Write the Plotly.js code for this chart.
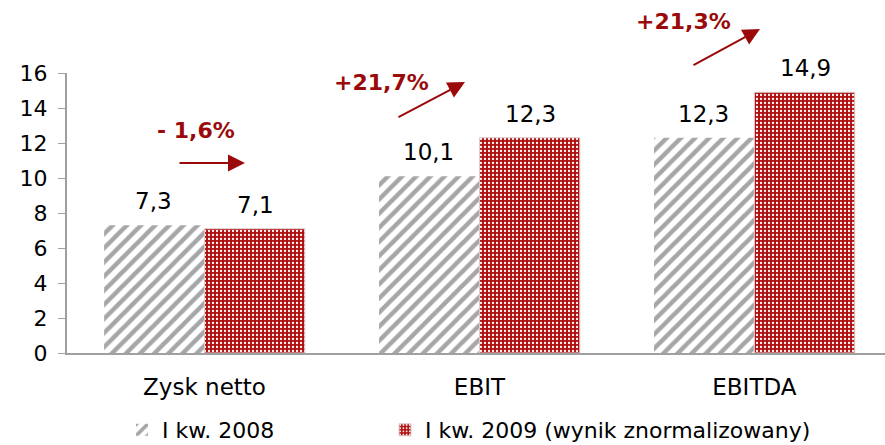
<!DOCTYPE html>
<html><head><meta charset="utf-8">
<script src="https://cdn.plot.ly/plotly-3.0.1.min.js"></script>
<style>body{margin:0;background:#fff}#c{width:885px;height:445px}</style>
</head><body><div id="c"></div>
<script>
const categories = ["Zysk netto", "EBIT", "EBITDA"];
const series2008 = [7.3, 10.1, 12.3];
const series2009 = [7.1, 12.3, 14.9];
const changeLabels = ["- 1,6%", "+21,7%", "+21,3%"];
const seriesNames = ["I kw. 2008", "I kw. 2009 (wynik znormalizowany)"];
const yTicks = [0, 2, 4, 6, 8, 10, 12, 14, 16];

const fmt = v => v.toFixed(1).replace('.', ',');
const dark = '#9a0a0a';
const FONT = 'DejaVu Sans, Liberation Sans, Arial, sans-serif';

const traces = [
  {type:'bar', x:categories, y:series2008, name:seriesNames[0], legend:'legend',
   marker:{color:'#a6a6a6', pattern:{shape:'/', fgcolor:'#a6a6a6', bgcolor:'#ffffff', size:10, solidity:0.45}},
   hoverinfo:'skip'},
  {type:'bar', x:categories, y:series2009, name:seriesNames[1], legend:'legend2',
   marker:{color:'#b01010', line:{color:'#e0d0d0', width:1}, pattern:{shape:'.', fgcolor:'#ffffff', bgcolor:'#b01010', size:4, solidity:0.25}},
   hoverinfo:'skip'}
];

const annotations = [];
categories.forEach((c, i) => {
  annotations.push({x:i - 0.185, y:series2008[i], xref:'x', yref:'y', text:fmt(series2008[i]),
    showarrow:false, xanchor:'center', yanchor:'bottom', yshift:9, font:{size:23, color:'#000'}});
  annotations.push({x:i + 0.185, y:series2009[i], xref:'x', yref:'y', text:fmt(series2009[i]),
    showarrow:false, xanchor:'center', yanchor:'bottom', yshift:9, font:{size:23, color:'#000'}});
});
const px = x => (x - 67) / 818;
const py = y => (353 - y) / 280;
const labelPos = [[196,130],[381,82],[683,22]];
const arrowPos = [[245,163,-67,0],[465,82,-68,36],[760,29,-68,37]];
changeLabels.forEach((t, i) => {
  annotations.push({x:px(labelPos[i][0]), y:py(labelPos[i][1]), xref:'paper', yref:'paper', text:'<b>'+t+'</b>',
    showarrow:false, xanchor:'center', yanchor:'middle', font:{size:22, color:dark}});
  annotations.push({x:px(arrowPos[i][0]), y:py(arrowPos[i][1]), xref:'paper', yref:'paper', text:'',
    showarrow:true, arrowhead:2, arrowsize:1.7, arrowwidth:2, arrowcolor:dark,
    ax:arrowPos[i][2], ay:arrowPos[i][3], axref:'pixel', ayref:'pixel'});
});

const layout = {
  width:885, height:445,
  margin:{l:67, r:0, t:73, b:92, autoexpand:false},
  paper_bgcolor:'#fff', plot_bgcolor:'#fff',
  font:{family:FONT, size:20, color:'#000'},
  barmode:'group', bargap:0.27, bargroupgap:0,
  showlegend:true,
  legend:{orientation:'h', x:px(122), y:py(430), xanchor:'left', yanchor:'middle', font:{size:22}, itemwidth:30},
  legend2:{orientation:'h', x:px(385), y:py(430), xanchor:'left', yanchor:'middle', font:{size:22}, itemwidth:30},
  xaxis:{type:'category', range:[-0.5, 2.475], showline:true, linecolor:'#a0a0a0', linewidth:2, ticks:'', showgrid:false, tickfont:{size:23}, ticklabelstandoff:12, fixedrange:true},
  yaxis:{range:[0,16], tickvals:yTicks, ticktext:yTicks.map(String), showline:true, linecolor:'#a0a0a0', linewidth:2, ticks:'outside', ticklen:7, tickcolor:'#a0a0a0', showgrid:false, zeroline:false, tickfont:{size:22}, ticklabelstandoff:6, fixedrange:true},
  annotations:annotations
};
Plotly.newPlot('c', traces, layout, {staticPlot:true});
</script></body></html>
